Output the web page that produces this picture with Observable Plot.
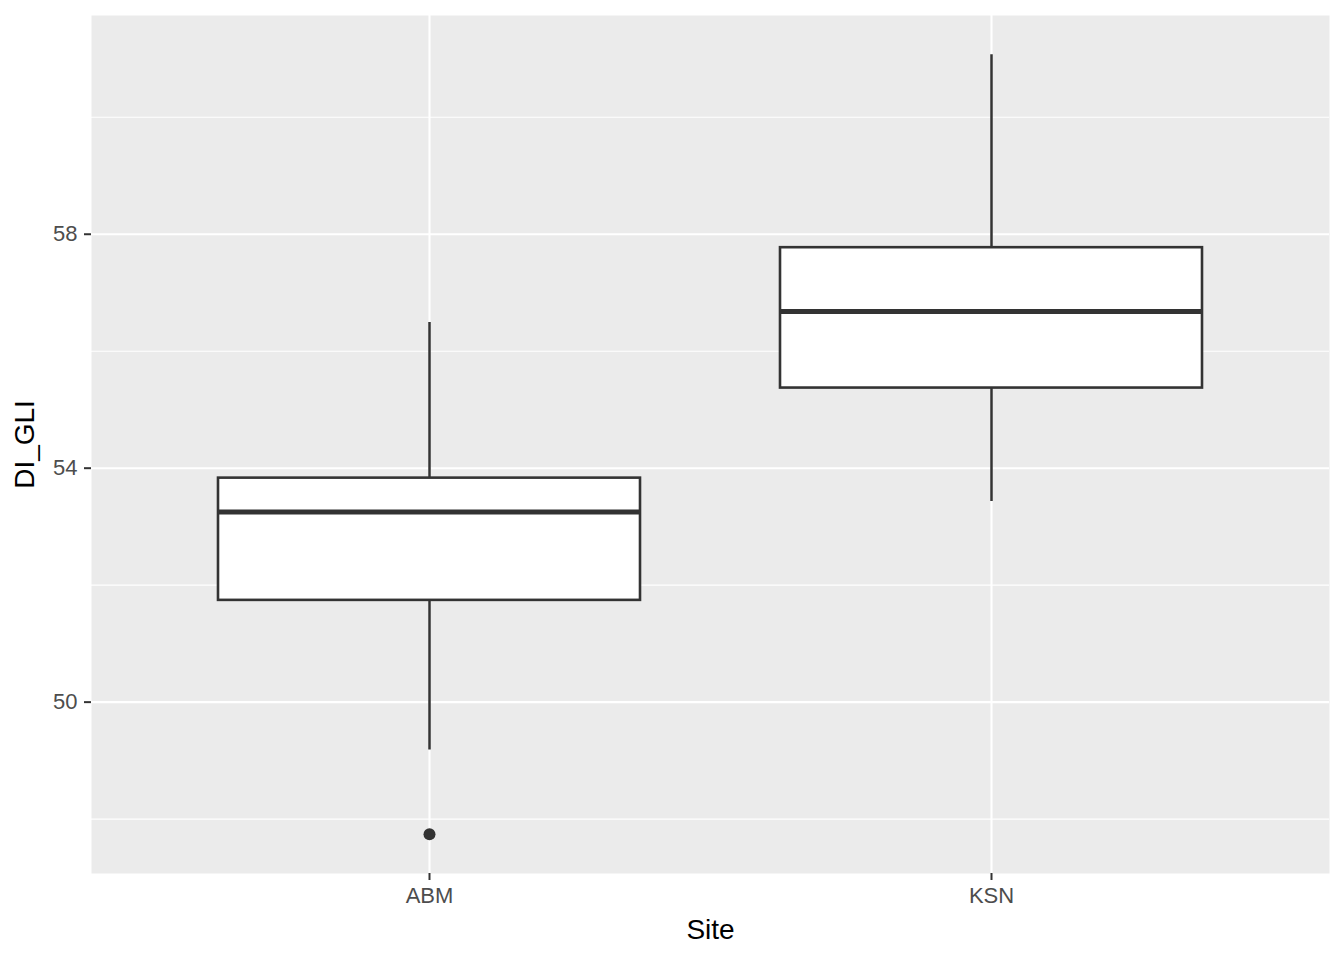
<!DOCTYPE html>
<html>
<head>
<meta charset="utf-8">
<script src="https://cdn.jsdelivr.net/npm/d3@7"></script>
<script src="https://cdn.jsdelivr.net/npm/@observablehq/plot@0.6"></script>
<style>
  html, body { margin: 0; padding: 0; background: #ffffff; }
  #chart svg { display: block; }
</style>
</head>
<body>
<div id="chart"></div>
<script>
const sites = ["ABM", "KSN"];
const whiskerLow = [49.18, 53.43];
const q1 = [51.74, 55.37];
const median = [53.25, 56.68];
const q3 = [53.83, 57.77];
const whiskerHigh = [56.49, 61.07];
const outlierSite = ["ABM"];
const outlierValue = [47.74];
const majorTicks = [50, 54, 58];
const minorTicks = [48, 52, 56, 60];
const xTitle = "Site";
const yTitle = "DI_GLI";

const boxes = sites.map((s, i) => ({
  site: s, lo: whiskerLow[i], q1: q1[i], med: median[i], q3: q3[i], hi: whiskerHigh[i]
}));
const outliers = outlierSite.map((s, i) => ({site: s, value: outlierValue[i]}));

const font = "'Liberation Sans', Arial, Helvetica, sans-serif";

const chart = Plot.plot({
  width: 1344,
  height: 960,
  marginLeft: 91,
  marginRight: 15,
  marginTop: 15,
  marginBottom: 87,
  style: {fontFamily: font, background: "#ffffff"},
  x: {type: "band", domain: sites, paddingInner: 0.25, paddingOuter: 0.225, align: 0.5, axis: null},
  y: {domain: [47.07, 61.74], axis: null},
  marks: [
    Plot.frame({fill: "#EBEBEB", stroke: null}),
    Plot.gridY(minorTicks, {stroke: "#ffffff", strokeOpacity: 1, strokeWidth: 1.1}),
    Plot.gridY(majorTicks, {stroke: "#ffffff", strokeOpacity: 1, strokeWidth: 2.1}),
    Plot.gridX(sites, {stroke: "#ffffff", strokeOpacity: 1, strokeWidth: 2.1}),
    Plot.ruleX(boxes, {x: "site", y1: "lo", y2: "hi", stroke: "#333333", strokeWidth: 2.5}),
    Plot.barY(boxes, {x: "site", y1: "q1", y2: "q3", fill: "#ffffff", stroke: "#333333", strokeWidth: 2.6}),
    Plot.tickY(boxes, {x: "site", y: "med", stroke: "#333333", strokeWidth: 5}),
    Plot.dot(outliers, {x: "site", y: "value", r: 6, fill: "#333333", stroke: null}),
    Plot.axisY(majorTicks, {tickSize: 7, tickFormat: () => "", stroke: "#333333", strokeWidth: 2, label: null}),
    Plot.axisY(majorTicks, {tickSize: 0, tickPadding: 14, tickFormat: d => String(d), fill: "#4D4D4D", fontSize: 22, label: null}),
    Plot.axisX(sites, {tickSize: 7, tickFormat: () => "", stroke: "#333333", strokeWidth: 2, label: null}),
    Plot.axisX(sites, {tickSize: 0, tickPadding: 14, fill: "#4D4D4D", fontSize: 22, label: null}),
    Plot.text([xTitle], {frameAnchor: "bottom", dy: 65, fontSize: 28, fill: "#000000", text: d => d}),
    Plot.text([yTitle], {frameAnchor: "left", textAnchor: "middle", dx: -66, rotate: -90, fontSize: 28, fill: "#000000", text: d => d})
  ]
});
document.getElementById("chart").appendChild(chart);
</script>
</body>
</html>
